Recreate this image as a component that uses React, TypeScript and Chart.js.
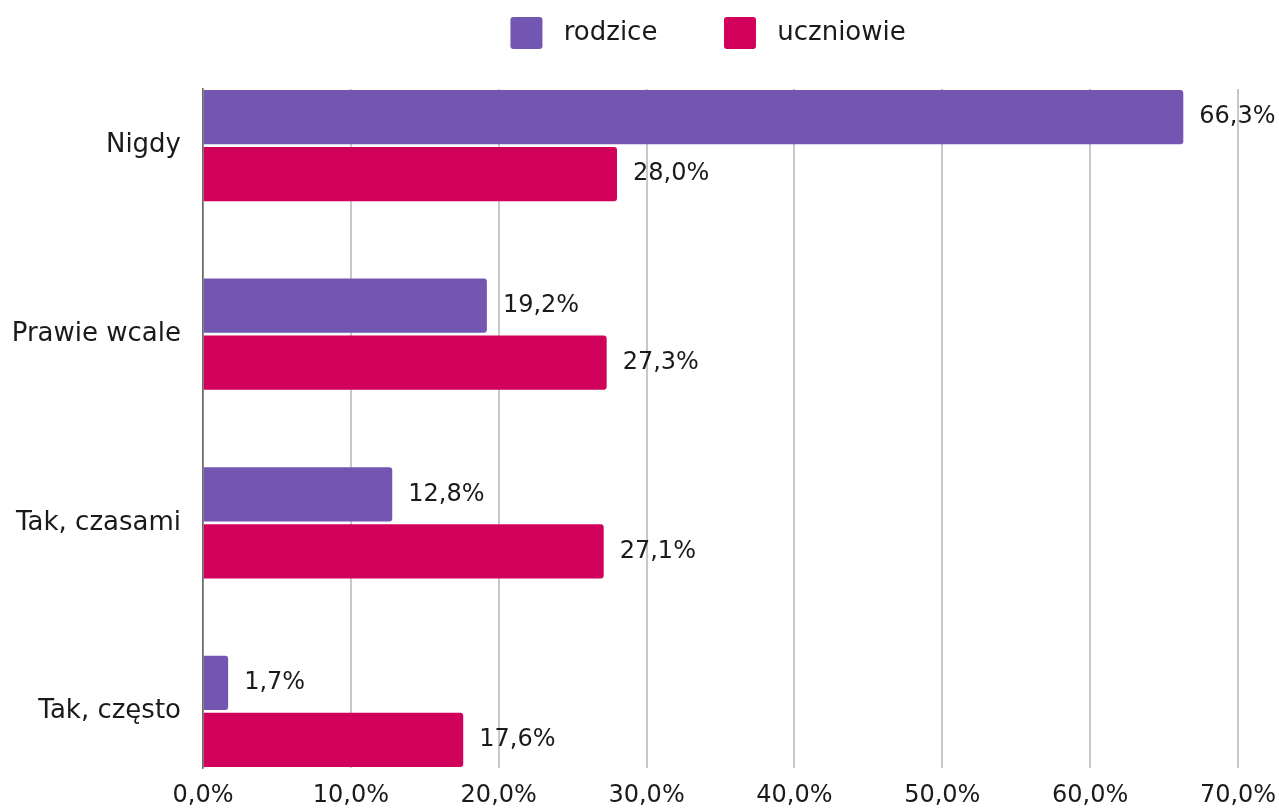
import React, { useEffect, useRef } from 'react';
import { Chart, registerables } from 'chart.js';

Chart.register(...registerables);

// ---- data ----
const categories = ['Nigdy', 'Prawie wcale', 'Tak, czasami', 'Tak, często'];
const seriesLabels = ['rodzice', 'uczniowie'];
const rodzice = [66.3, 19.2, 12.8, 1.7];
const uczniowie = [28.0, 27.3, 27.1, 17.6];
const seriesColors = ['#7356B1', '#D1005B'];
const xMin = 0;
const xMax = 70;
const xStep = 10;

const FONT = "'DejaVu Sans', 'Open Sans', sans-serif";
const TEXT = '#1a1a1a';
const fmt = (v: number) => v.toFixed(1).replace('.', ',') + '%';

export default function App() {
  const ref = useRef<HTMLCanvasElement>(null);

  useEffect(() => {
    if (!ref.current) return;
    Chart.defaults.font.family = FONT;

    const legendSpacing = {
      id: 'legendSpacing',
      beforeInit(chart: any) {
        if (!chart.legend) return;
        const orig = chart.legend.fit;
        chart.legend.fit = function () {
          orig.call(this);
          this.height += 30;
        };
      },
    };

    const valueLabels = {
      id: 'valueLabels',
      afterDatasetsDraw(chart: any) {
        const { ctx } = chart;
        ctx.save();
        ctx.font = `24px ${FONT}`;
        ctx.fillStyle = TEXT;
        ctx.textAlign = 'left';
        ctx.textBaseline = 'middle';
        chart.data.datasets.forEach((ds: any, di: number) => {
          const meta = chart.getDatasetMeta(di);
          meta.data.forEach((el: any, i: number) => {
            const v = ds.data[i].x;
            ctx.fillText(fmt(v), el.x + 16, el.y);
          });
        });
        ctx.restore();
      },
    };

    const series = [rodzice, uczniowie];
    const chart = new Chart(ref.current, {
      type: 'bar',
      data: {
        datasets: series.map((vals, si) => ({
          label: seriesLabels[si],
          data: vals.map((v, i) => ({ x: v, y: i })),
          backgroundColor: seriesColors[si],
          borderWidth: 0,
          borderRadius: 3,
          borderSkipped: 'start',
          categoryPercentage: 0.605,
          barPercentage: 0.95,
        })),
      },
      options: {
        indexAxis: 'y',
        animation: false,
        responsive: true,
        maintainAspectRatio: false,
        layout: { padding: { left: 0, right: 41, top: 0, bottom: 0 } },
        scales: {
          x: {
            type: 'linear',
            position: 'bottom',
            min: xMin,
            max: xMax,
            afterFit: (s: any) => {
              s.height = 42;
              s.paddingRight = 0;
              s.paddingLeft = 0;
            },
            ticks: {
              stepSize: xStep,
              padding: 13,
              color: TEXT,
              font: { family: FONT, size: 24 },
              callback: (v: any) => fmt(Number(v)),
            },
            grid: {
              drawTicks: false,
              color: (c: any) => (c.tick && c.tick.value === 0 ? '#6b6b6b' : '#c8c8c8'),
              lineWidth: (c: any) => (c.tick && c.tick.value === 0 ? 1.5 : 2),
            },
            border: { display: false },
          },
          y: {
            type: 'linear',
            reverse: true,
            offset: false,
            min: -0.3,
            max: categories.length - 1 + 0.3,
            afterBuildTicks: (s: any) => {
              s.ticks = categories.map((_, i) => ({ value: i }));
            },
            afterFit: (s: any) => {
              s.width = 203;
            },
            grid: { display: false, drawTicks: false, offset: false },
            border: { display: true, color: '#6b6b6b', width: 1.5 },
            ticks: {
              padding: 22,
              autoSkip: false,
              color: TEXT,
              font: { family: FONT, size: 26 },
              callback: (v: any) => categories[Number(v)] ?? '',
            },
          },
        },
        plugins: {
          tooltip: { enabled: false },
          legend: {
            position: 'top',
            fullSize: false,
            labels: {
              boxWidth: 32,
              boxHeight: 32,
              padding: 17,
              color: TEXT,
              font: { family: FONT, size: 26 },
              useBorderRadius: true,
              borderRadius: 3,
              generateLabels: (ch: any) => {
                const items = Chart.defaults.plugins.legend.labels.generateLabels(ch);
                return items.map((it: any, i: number) => ({
                  ...it,
                  text: ' ' + it.text + (i === 0 ? '      ' : '   '),
                  lineWidth: 0,
                  borderRadius: 3,
                }));
              },
            },
          },
        },
      } as any,
      plugins: [legendSpacing, valueLabels],
    } as any);

    return () => chart.destroy();
  }, []);

  return (
    <div style={{ position: 'fixed', left: 0, top: 0, width: 1279, height: 810, background: '#fff' }}>
      <canvas ref={ref} />
    </div>
  );
}
